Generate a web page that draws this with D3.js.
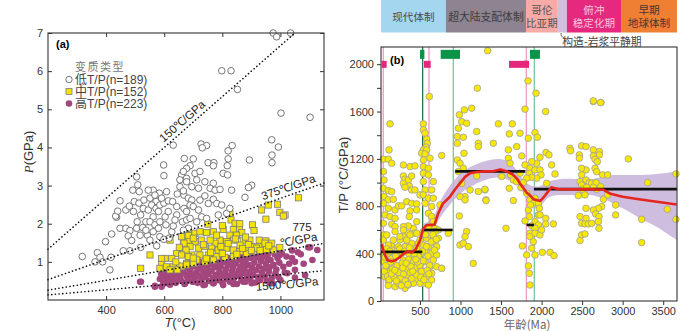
<!DOCTYPE html>
<html>
<head>
<meta charset="utf-8">
<script src="https://cdn.jsdelivr.net/npm/d3@7"></script>
<style>
  body { margin: 0; background: #fff; }
  text { font-family: "Liberation Sans", Arial, sans-serif; }
  .cjk { font-family: "Noto Sans CJK SC", sans-serif; }
  .mix { font-family: "Liberation Sans", "Noto Sans CJK SC", sans-serif; }
</style>
</head>
<body>
<svg id="chart" width="700" height="331"></svg>
<script>
// ---------- panel (a): T (°C) vs P (GPa) ----------
const lowTP = [[975,7.0],[1035,7.0],[987,6.9],[798,6.01],[830,6.01],[852,5.52],[1002,4.9],[1102,4.79],[631,4.06],[727,4.09],[746,4.05],[731,3.99],[834,4.05],[820,3.91],[970,4.2],[993,4.01],[971,3.8],[971,3.6],[893,3.67],[669,3.71],[700,3.70],[689,3.52],[598,3.54],[751,3.6],[771,3.6],[769,3.52],[820,3.70],[817,3.52],
  [599,3.26],[505,3.23],[677,3.45],[660,3.28],[677,3.19],[509,3.02],[492,2.88],[514,2.84],[318,1.14],[370,1.24],[379,1.12],[362,1.00],[388,1.00],[417,1.12],[413,0.79],[398,1.53],[419,1.73],[436,2.17],[433,2.20],[440,2.33],[448,2.60],[448,1.88],[468,1.88],[482,1.82],[476,1.68],[488,1.56],[459,1.29],[482,1.29],[519,1.38],[468,2.36],[480,2.46],[494,2.32],[497,2.58],[513,2.54],[507,2.05],[519,2.23],[528,2.40],[505,1.88],[526,1.90],[517,1.70],[542,1.70],[551,1.57],[537,2.05],[545,2.36],[530,2.62],[551,2.67],[562,2.88],[545,2.88],[583,2.80],[568,2.75],[572,2.58],[557,2.49],[572,2.40],[585,2.49],[580,2.32],[599,2.54],[614,2.60],[608,2.84],[591,2.67],[562,2.18],[551,2.05],[568,1.97],[585,2.05],[603,2.18],[614,2.32],[606,1.97],[580,1.88],[537,1.83],[562,1.79],[585,1.66],[599,1.59],[617,1.62],[626,1.79],[631,1.94],[643,2.23],[643,2.45],[629,2.58],[645,2.78],[668,2.75],[654,2.97],[654,3.15],[677,3.10],[683,2.67],[668,2.40],[677,2.32],[663,2.05],[677,2.10],[574,1.42],[637,2.10],
  [666,3.37],[706,3.32],[723,3.37],[803,3.32],[818,3.28],[712,3.15],[740,3.10],[769,3.06],[666,2.86],[695,2.97],[718,2.93],[758,2.93],[775,2.88],[792,2.90],[832,2.88],[901,3.01],[890,2.95],[695,2.62],[723,2.62],[740,2.73],[752,2.53],[769,2.64],[781,2.53],[798,2.49],[689,2.49],[700,2.45],[718,2.36],[689,2.14],[729,2.18],[746,2.14],[712,2.05],[786,2.23],[815,2.27],[683,1.88],[666,1.83],[878,2.69],[826,2.40]];

const midTP = [[1062,2.68],[990,2.51],[998,2.30],[1016,2.23],[935,2.36],[950,2.12],[958,2.49],[826,2.27],[830,2.10],[844,2.01],[904,1.97],[909,1.82],[750,1.99],[769,1.79],[746,1.77],[803,1.85],[838,1.85],[859,1.88],[867,1.77],[849,1.70],[826,1.70],[872,1.57],[895,1.57],[927,1.57],[950,1.55],[970,1.49],[998,1.38],[952,1.33],[926,1.40],[901,1.40],[882,1.36],[861,1.44],[838,1.57],[815,1.53],[792,1.57],[775,1.49],[758,1.57],[729,1.57],[706,1.53],[683,1.57],[666,1.49],[660,1.66],[683,1.70],[706,1.75],[723,1.79],[666,1.36],[689,1.40],[718,1.36],[740,1.40],[763,1.36],[786,1.31],[815,1.36],[838,1.31],[861,1.27],[884,1.22],[907,1.27],[666,1.22],[695,1.18],[723,1.18],[752,1.18],[781,1.14],[809,1.12],[838,1.14],[712,1.05],[740,1.00],[769,1.05],[677,0.96],[700,0.96],[660,0.87],
  [683,1.85],[620,1.57],[668,1.49],[652,1.38],[675,1.31],[643,1.22],[660,1.18],[683,1.14],[551,1.18],[603,1.09],[626,1.09],[591,0.98],[608,0.87],[631,0.87],[654,0.89],[677,0.92],[585,0.83],[519,0.83],[620,0.79],[645,0.79],[591,1.09],[947,1.49],[918,1.36],[976,1.31],[1010,2.20],
  [700,1.62],[735,1.45],[760,1.25],[795,1.40],[820,1.48],[845,1.60],[870,1.35],[890,1.45],[780,1.70],[800,1.95],[860,2.0],[880,1.65],[640,1.00],[700,1.10],[745,1.08],[800,1.22],[850,1.20],[900,1.30],[930,1.30],[960,1.42]];

const highTP = [[520,0.48],[568,0.35],[591,0.35],[597,0.45],[585,0.55],[590,0.68],[600,0.72],[605,0.60],[612,0.50],[620,0.40],[625,0.63],[630,0.74],[635,0.55],[640,0.45],[645,0.68],[650,0.80],[655,0.60],[660,0.50],[665,0.72],[670,0.42],[672,0.85],[678,0.62],[683,0.52],[688,0.78],[692,0.66],[698,0.48],[700,0.88],[705,0.58],[710,0.72],[715,0.45],[718,0.82],[722,0.64],[728,0.53],[732,0.90],[735,0.74],[740,0.40],[742,0.60],[748,0.84],[752,0.68],[756,0.50],[760,0.93],[763,0.76],[768,0.58],[770,0.44],[775,0.86],[778,0.66],[782,0.96],[786,0.52],[790,0.74],[794,0.88],[798,0.62],[800,0.45],[805,1.00],[808,0.70],[812,0.80],[815,0.55],[818,0.92],[822,0.64],[826,0.48],[830,1.02],[833,0.76],[836,0.86],[840,0.58],[843,0.68],[846,0.95],[850,0.42],[852,1.05],[856,0.78],[860,0.62],[863,0.88],[866,0.52],[870,1.00],[873,0.70],[876,0.82],[880,0.48],[883,1.08],[886,0.60],[890,0.92],[893,0.74],[896,0.55],[900,1.10],[903,0.84],[906,0.66],[910,0.98],[913,0.46],[916,0.78],[920,1.12],[923,0.60],[926,0.88],[930,0.52],[933,1.02],[936,0.72],[940,1.15],[943,0.82],[946,0.62],[950,0.95],[953,0.50],[956,1.18],[960,0.74],[963,0.86],[966,1.05],[970,0.58],[973,0.44],[976,0.92],[980,1.20],[983,0.70],[986,0.80],[990,1.10],[993,0.60],[996,0.98],[1000,0.52],[1005,1.22],[1010,0.87],[1015,0.72],[1021,1.14],[1024,0.70],[1030,0.95],[1040,1.10],[1050,1.00],[1050,0.79],[1050,0.59],[1060,1.25],[1096,1.38],[1102,1.38],[1127,1.31],[998,1.18],[964,0.44],[901,0.44],[872,0.48],[838,0.42],[803,0.39],[769,0.44],[735,0.39],[700,0.48],[672,0.44],[617,0.52],[631,0.63],[654,0.61],[677,0.66],[608,0.57],[643,0.52],[683,0.52],[666,0.74],[626,0.52],[597,0.66],[614,0.70],[603,0.44],[568,0.37],[517,0.48],
  [720,1.00],[745,1.05],[770,1.08],[795,1.12],[820,1.10],[845,1.15],[870,1.18],[895,1.20],[915,1.22],[945,1.25],[975,1.28],[700,0.98],[760,1.02],[810,1.06],[860,1.12],[905,1.15],[955,1.08],[990,1.24],[1040,1.30],[1070,1.20],[1080,0.95],[1085,0.65],[1110,1.05],[650,0.90],[680,0.95],[740,0.96],[790,0.98],[830,0.92],[880,0.94]];

const gradients = [150, 375, 775, 1500];   // °C/GPa reference lines
const ticksT = [400, 600, 800, 1000];
const ticksP = [1, 2, 3, 4, 5, 6, 7];
const legendA = ["低T/P(n=189)", "中T/P(n=152)", "高T/P(n=223)"];

// ---------- panel (b): age (Ma) vs T/P ----------
const agePts = [[131,1496],[49,1197],[110,1197],[119,1276],[152,1163],[49,1093],[57,1022],[49,952],[110,932],[152,924],[57,882],[110,854],[172,859],[49,825],[110,783],[69,727],[131,713],[193,699],[49,656],[152,648],[193,628],[57,558],[152,465],[193,769],[234,803],[296,1149],[378,1135],[439,1141],[296,1056],[316,1028],[296,994],[357,1022],[369,972],[316,960],[398,938],[439,938],[398,1056],[275,803],[337,839],[398,825],[378,761],[460,820],[460,769],[369,713],[460,670],[419,614],[357,634],[296,628],[439,572],[357,572],[296,544],[337,516],[254,516],[480,487],[398,473],[316,459],[501,896],
  [542,1496],[542,1445],[563,1417],[583,1366],[591,1332],[575,1299],[542,1276],[583,1276],[521,1248],[563,1242],[542,1191],[624,1206],[542,1135],[604,1121],[542,1079],[604,1065],[542,1008],[665,1008],[563,938],[645,938],[542,896],[604,868],[665,868],[563,825],[645,797],[604,741],[645,713],[665,670],[604,628],[686,614],[747,811],[768,1228],[727,600],[727,530],[686,487],[768,276],[850,572],
  [986,1572],[1048,1614],[1138,1628],[1015,1515],[1076,1501],[974,1459],[961,1389],[961,1332],[1035,1383],[1200,1431],[1220,1332],[1220,1304],[1043,1248],[961,1191],[994,1163],[1035,1121],[974,1093],[1200,1056],[1015,994],[1118,938],[1056,882],[994,882],[1056,854],[1220,924],[986,718],[1076,586],[1056,544],[994,473],[1035,487],[1097,459],[1158,318],[1302,938],[1314,854],
  [49,389],[110,389],[49,332],[90,290],[131,248],[69,205],[110,163],[172,191],[193,248],[234,220],[275,163],[254,135],[316,149],[357,177],[398,205],[439,234],[480,262],[460,177],[419,149],[337,220],[296,262],[234,290],[172,318],[296,346],[378,346],[337,304],[419,304],[501,332],[439,375],[357,403],[275,403],[213,389],[152,431],[234,459],[316,459],[398,487],[460,445],[521,403],[542,473],[501,515],[337,515],[254,544],[172,515],[110,473],[49,515],[90,558],[193,586],[296,600],[378,558],[460,572],[542,586],[583,530],[624,558],[686,586],[665,515],[604,459],[645,403],[706,459],[706,389],[665,346],[624,290],[645,234],[583,205],[542,149],[645,177],[706,290],[768,276],[563,332],[604,135],[152,360],[398,262],[316,107],[357,135],[193,121],[501,149],
  [60,250],[80,300],[100,210],[120,180],[140,330],[160,270],[180,200],[200,380],[220,300],[240,240],[260,190],[280,320],[300,230],[320,170],[340,270],[360,350],[380,240],[400,190],[420,330],[440,280],[460,220],[480,380],[500,300],[520,250],[540,340],[560,420],[580,460],[600,380],[620,300],[640,500],[660,560],[680,430],[700,520],[90,440],[70,370],[130,420],[250,440],[310,420],[370,450],[430,400],[470,330],[510,200],[550,180],[590,260],[610,230],[570,560],[530,420],[110,130],[230,150],[350,140],[270,130],[150,230],[190,260],[210,170],[290,280],[330,320],[390,290],[410,250],[450,350],
  [1405,1332],[1467,1496],[1639,1496],[1602,1411],[1734,1417],[1693,1304],[1590,1276],[1590,1206],[1755,1225],[1796,1620],[1837,1375],[1919,1423],[1948,1383],[2050,1600],[1980,1214],[1939,1163],[1878,1177],[2055,1254],[2091,1234],[2124,1149],[1611,1163],[1619,1065],[1508,1051],[1652,1022],[1693,1008],[1734,1079],[1796,1149],[1857,1121],[1849,1079],[1919,1107],[1981,1107],[1993,1065],[2063,994],[2165,1073],[1939,1037],[1878,1045],[1816,1037],[1775,1000],[1746,958],[1602,952],[1302,943],[1315,848],[1652,848],[1816,910],[1857,854],[1919,868],[1898,825],[1960,825],[1972,783],[1837,769],[1865,811],[1960,727],[1981,727],[1849,713],[1796,676],[1919,670],[1878,634],[1960,642],[2050,698],[2050,651],[2145,651],[1857,572],[1919,614],[1857,544],[1919,572],[1980,558],[2001,600],[1898,501],[1763,465],[1878,445],[1816,389],[1919,389],[2009,411],[2104,411],[2153,383],[1837,296],[1849,234],[1857,135],[1561,614],
  [2350,1290],[2358,1268],[2494,1310],[2548,1304],[2466,1234],[2466,1206],[2638,1276],[2712,1262],[2712,1234],[2638,1225],[2659,1197],[2688,1177],[2548,1107],[2494,1121],[2659,1121],[2679,1093],[2753,1065],[2815,1065],[2494,1065],[2474,1008],[2548,1022],[2589,1000],[2494,980],[2618,994],[2671,1000],[2679,943],[2638,960],[2507,943],[2556,960],[2729,966],[2453,890],[2535,896],[2762,859],[2815,896],[2741,797],[2700,783],[2548,783],[2638,769],[2667,735],[2708,713],[2474,713],[2548,698],[2494,656],[2535,651],[2577,651],[2618,656],[2700,670],[2708,614],[2494,558],[2535,566],[2474,510],[2913,811],[2913,727],[3070,1200],[3308,1000],[3234,690],[3234,493],[3551,775],[3657,1073],[3657,690],[2638,1684],[2733,1676],
  [1335,2113],[1804,2003],[1833,1859],[1208,1797],[616,1727],[1931,1755],[2638,1690],[2728,1676]];

// group means (start age, end age, T/P)
const meanSegs = [[20,530,415],[541,904,600],[935,1800,1095],[1816,1906,642],[1906,3670,945]];
// smoothed trend and its band
const trendAge = [28,60,100,150,200,250,300,350,400,450,500,540,580,680,720,780,870,930,1000,1060,1120,1200,1300,1400,1490,1570,1650,1700,1740,1775,1816,1860,1900,1950,1985,2030,2070,2120,2200,2400,2600,2760,2850,3000,3200,3400,3665];
const trendTP  = [480,400,345,335,345,370,400,420,410,440,510,610,640,645,730,820,880,940,1000,1050,1080,1090,1095,1095,1110,1095,1065,1030,985,955,915,890,860,850,845,880,915,960,945,943,943,940,905,880,860,840,815];
const bandAge = [540,600,680,727,830,953,1076,1241,1364,1487,1611,1693,1775,1816,1878,1980,2042,2124,2309,2556,2638,2803,2885,2967,3214,3296,3460,3665];
const bandHi  = [650,668,700,825,938,1051,1121,1169,1192,1206,1177,1107,1022,994,966,966,990,1022,1037,1022,1030,1055,1065,1065,1065,1065,1075,1093];
const bandLo  = [590,610,615,684,783,882,952,1008,1037,1051,1015,1000,910,854,783,783,854,896,896,896,896,854,820,797,698,670,614,515];

const pinkLines = [48, 612, 1812];
const greenLines = [911, 1910];
const darkLines = [534];
const greenBars = [[501,555],[756,994],[1857,1980]];
const pinkBars = [[29,90],[550,633],[1598,1845]];

const periodEdges = [20, 820, 1808, 2200, 2312, 2980, 3670];
const periodNames = [["现代体制"], ["超大陆支配体制"], ["哥伦", "比亚期"], [], ["俯冲", "稳定化期"], ["早期", "地球体制"]];
const periodColors = ["#a4d6ef", "#8e8391", "#f7aaa6", "#cfc0de", "#e5297e", "#ef8033"];
const periodText = ["#4a4a4a", "#3d3d3d", "#555", "#555", "#f6c4dc", "#4a3530"];

const svg = d3.select("#chart");

// ================= panel (a) =================
const xA = d3.scaleLinear().domain([200, 1150]).range([48, 324]);
const yA = d3.scaleLinear().domain([0, 7]).range([300, 33]);
const gA = svg.append("g");

gA.append("g").selectAll("circle").data(highTP).join("circle")
  .attr("cx", d => xA(d[0])).attr("cy", d => yA(d[1])).attr("r", 3.3)
  .attr("fill", "#a3467d");

gA.append("g").selectAll("rect").data(midTP).join("rect")
  .attr("x", d => xA(d[0]) - 3.1).attr("y", d => yA(d[1]) - 3.1)
  .attr("width", 6.2).attr("height", 6.2)
  .attr("fill", "#f6e400").attr("stroke", "#7d7d7d").attr("stroke-width", 0.8);

gA.append("g").selectAll("circle").data(lowTP).join("circle")
  .attr("cx", d => xA(d[0])).attr("cy", d => yA(d[1])).attr("r", 3.3)
  .attr("fill", "#fff").attr("stroke", "#666").attr("stroke-width", 0.9);

// dotted T/P lines
gradients.forEach(g => {
  const t1 = Math.min(1150, 7 * g);
  gA.append("line")
    .attr("x1", xA(200)).attr("y1", yA(200 / g))
    .attr("x2", xA(t1)).attr("y2", yA(t1 / g))
    .attr("stroke", "#111").attr("stroke-width", 1.6)
    .attr("stroke-linecap", "round").attr("stroke-dasharray", "0.1,3.6");
});

function angleOf(g) {
  return Math.atan2(yA(1100 / g) - yA(300 / g), xA(1100) - xA(300)) * 180 / Math.PI;
}
function lineLabel(txt, t, g, off, size) {
  gA.append("text")
    .attr("transform", `translate(${xA(t)},${yA(t / g)}) rotate(${angleOf(g)})`)
    .attr("y", off).attr("text-anchor", "middle")
    .attr("font-size", size).attr("fill", "#222").text(txt);
}
lineLabel("150℃/GPa", 680, 150, -4, 11.5);
lineLabel("375℃/GPa", 1036, 375, -4, 11.5);
lineLabel("℃/GPa", 1068, 775, -4, 11.5);
lineLabel("1500℃/GPa", 1020, 1500, 14, 11.5);
gA.append("text").attr("x", 302).attr("y", 231).attr("text-anchor", "middle")
  .attr("font-size", 11.5).attr("fill", "#222").text("775");

// axes (inward ticks)
const axB = gA.append("g").attr("transform", "translate(0,300)")
  .call(d3.axisBottom(xA).tickValues(ticksT).tickSize(-4).tickPadding(6).tickFormat(d3.format("d")));
const axT = gA.append("g").attr("transform", "translate(0,33)")
  .call(d3.axisTop(xA).tickValues(ticksT).tickSize(-4).tickFormat(""));
const axL = gA.append("g").attr("transform", "translate(48,0)")
  .call(d3.axisLeft(yA).tickValues(ticksP).tickSize(-4).tickPadding(5).tickFormat(d3.format("d")));
const axR = gA.append("g").attr("transform", "translate(324,0)")
  .call(d3.axisRight(yA).tickValues(ticksP).tickSize(-4).tickFormat(""));
[axB, axT, axL, axR].forEach(a => {
  a.select(".domain").remove();
  a.selectAll("line").attr("stroke", "#333");
  a.selectAll("text").attr("font-size", 11).attr("fill", "#333")
    .attr("font-family", "Liberation Sans, Arial, sans-serif");
});
gA.append("rect").attr("x", 48).attr("y", 33).attr("width", 276).attr("height", 267)
  .attr("fill", "none").attr("stroke", "#333").attr("stroke-width", 1.1);

gA.append("text").attr("x", 56).attr("y", 48).attr("font-size", 11)
  .attr("font-weight", "bold").attr("font-family", "Liberation Serif, serif").text("(a)");

// legend
gA.append("text").attr("class", "cjk").attr("x", 75).attr("y", 70.5)
  .attr("font-size", 11).attr("fill", "#777").attr("letter-spacing", 1.5).text("变质类型");
legendA.forEach((t, i) => {
  const y = 79.5 + i * 12;
  if (i === 0) gA.append("circle").attr("cx", 69).attr("cy", y).attr("r", 3.2)
    .attr("fill", "#fff").attr("stroke", "#666").attr("stroke-width", 0.9);
  if (i === 1) gA.append("rect").attr("x", 66).attr("y", y - 3).attr("width", 6).attr("height", 6)
    .attr("fill", "#f6e400").attr("stroke", "#7d7d7d").attr("stroke-width", 0.8);
  if (i === 2) gA.append("circle").attr("cx", 69).attr("cy", y).attr("r", 3.3).attr("fill", "#a3467d");
  gA.append("text").attr("class", "mix").attr("x", 75).attr("y", y + 4.2)
    .attr("font-size", 12).attr("fill", "#444").text(t);
});

// axis titles
const xt = gA.append("text").attr("x", 180).attr("y", 327).attr("text-anchor", "middle")
  .attr("font-size", 13).attr("fill", "#333");
xt.append("tspan").attr("font-style", "italic").text("T");
xt.append("tspan").text("(°C)");
const yt = gA.append("text").attr("transform", "translate(33,152) rotate(-90)")
  .attr("text-anchor", "middle").attr("font-size", 13).attr("fill", "#333");
yt.append("tspan").attr("font-style", "italic").attr("font-family", "Liberation Serif, serif").text("P");
yt.append("tspan").text("(GPa)");

// ================= panel (b) =================
const xB = d3.scaleLinear().domain([20, 3670]).range([381, 677]);
const yB = d3.scaleLinear().domain([0, 2145]).range([301, 47]);
const gB = svg.append("g");

// period bar on top
periodColors.forEach((c, i) => {
  const x0 = xB(periodEdges[i]), x1 = xB(periodEdges[i + 1]);
  gB.append("rect").attr("x", x0).attr("y", 0).attr("width", x1 - x0).attr("height", 32.5).attr("fill", c);
  const lines = periodNames[i];
  lines.forEach((t, j) => {
    gB.append("text").attr("class", "cjk")
      .attr("x", (x0 + x1) / 2)
      .attr("y", lines.length === 1 ? 21 : 14 + j * 13)
      .attr("text-anchor", "middle").attr("font-size", lines.length === 1 && t.length > 5 ? 10.8 : 10.6)
      .attr("fill", periodText[i]).text(t);
  });
});
gB.append("path").attr("d", "M561,33 Q560,36 564,38").attr("fill", "none")
  .attr("stroke", "#444").attr("stroke-width", 0.8);
gB.append("text").attr("class", "cjk").attr("x", 602).attr("y", 45.5).attr("text-anchor", "middle")
  .attr("font-size", 10.8).attr("fill", "#444").text("构造-岩浆平静期");

// vertical event lines
const vline = (a, col, w) => gB.append("line")
  .attr("x1", xB(a)).attr("x2", xB(a)).attr("y1", 47).attr("y2", 301)
  .attr("stroke", col).attr("stroke-width", w);
pinkLines.forEach(a => vline(a, "#f29bc4", 1.3));
greenLines.forEach(a => vline(a, "#5cc08a", 1.1));
darkLines.forEach(a => vline(a, "#17643a", 1.2));

// confidence band
const band = bandAge.map((a, i) => ({ a, lo: bandLo[i], hi: bandHi[i] }));
gB.append("path").datum(band)
  .attr("d", d3.area().x(d => xB(d.a)).y0(d => yB(d.lo)).y1(d => yB(d.hi)).curve(d3.curveBasis))
  .attr("fill", "#c5b1d8").attr("opacity", 0.85);

// samples
gB.append("g").selectAll("circle").data(agePts).join("circle")
  .attr("cx", d => xB(d[0])).attr("cy", d => yB(d[1])).attr("r", 3.3)
  .attr("fill", "#f8e800").attr("stroke", "#a0a0a0").attr("stroke-width", 0.8);

// group means
gB.append("g").selectAll("line").data(meanSegs).join("line")
  .attr("x1", d => xB(d[0])).attr("x2", d => xB(d[1]))
  .attr("y1", d => yB(d[2])).attr("y2", d => yB(d[2]))
  .attr("stroke", "#111").attr("stroke-width", 2.6);

// trend line
gB.append("path").datum(trendAge.map((a, i) => [a, trendTP[i]]))
  .attr("d", d3.line().x(d => xB(d[0])).y(d => yB(d[1])))
  .attr("fill", "none").attr("stroke", "#e52620").attr("stroke-width", 2.6)
  .attr("stroke-linejoin", "round");

// period markers inside frame
gB.append("g").selectAll("rect").data(greenBars).join("rect")
  .attr("x", d => xB(d[0])).attr("width", d => xB(d[1]) - xB(d[0]))
  .attr("y", yB(2121)).attr("height", yB(2045) - yB(2121)).attr("fill", "#0b9448");
gB.append("g").selectAll("rect").data(pinkBars).join("rect")
  .attr("x", d => xB(d[0])).attr("width", d => xB(d[1]) - xB(d[0]))
  .attr("y", yB(2028)).attr("height", yB(1969) - yB(2028)).attr("fill", "#e5267d");

// axes
const bx = gB.append("g").attr("transform", "translate(0,301)")
  .call(d3.axisBottom(xB).tickValues(d3.range(500, 3501, 500)).tickSize(4).tickPadding(2).tickFormat(d3.format("d")));
const by = gB.append("g").attr("transform", "translate(381,0)")
  .call(d3.axisLeft(yB).tickValues(d3.range(0, 2001, 200))
    .tickFormat(d => d % 400 === 0 ? String(d) : "").tickSize(4).tickPadding(3));
[bx, by].forEach(a => {
  a.select(".domain").remove();
  a.selectAll("line").attr("stroke", "#333");
  a.selectAll("text").attr("font-size", 11).attr("fill", "#333")
    .attr("font-family", "Liberation Sans, Arial, sans-serif");
});
gB.append("rect").attr("x", 381).attr("y", 47).attr("width", 296).attr("height", 254)
  .attr("fill", "none").attr("stroke", "#333").attr("stroke-width", 1.1);

gB.append("text").attr("x", 390).attr("y", 64).attr("font-size", 11)
  .attr("font-weight", "bold").attr("font-family", "Liberation Serif, serif").text("(b)");

gB.append("text").attr("class", "cjk").attr("x", 527).attr("y", 328.5).attr("text-anchor", "middle")
  .attr("font-size", 11.5).attr("fill", "#666").text("年龄(Ma)");
gB.append("text").attr("transform", "translate(348,175) rotate(-90)").attr("text-anchor", "middle")
  .attr("font-size", 13).attr("fill", "#333").text("T/P (°C/GPa)");
</script>
</body>
</html>
